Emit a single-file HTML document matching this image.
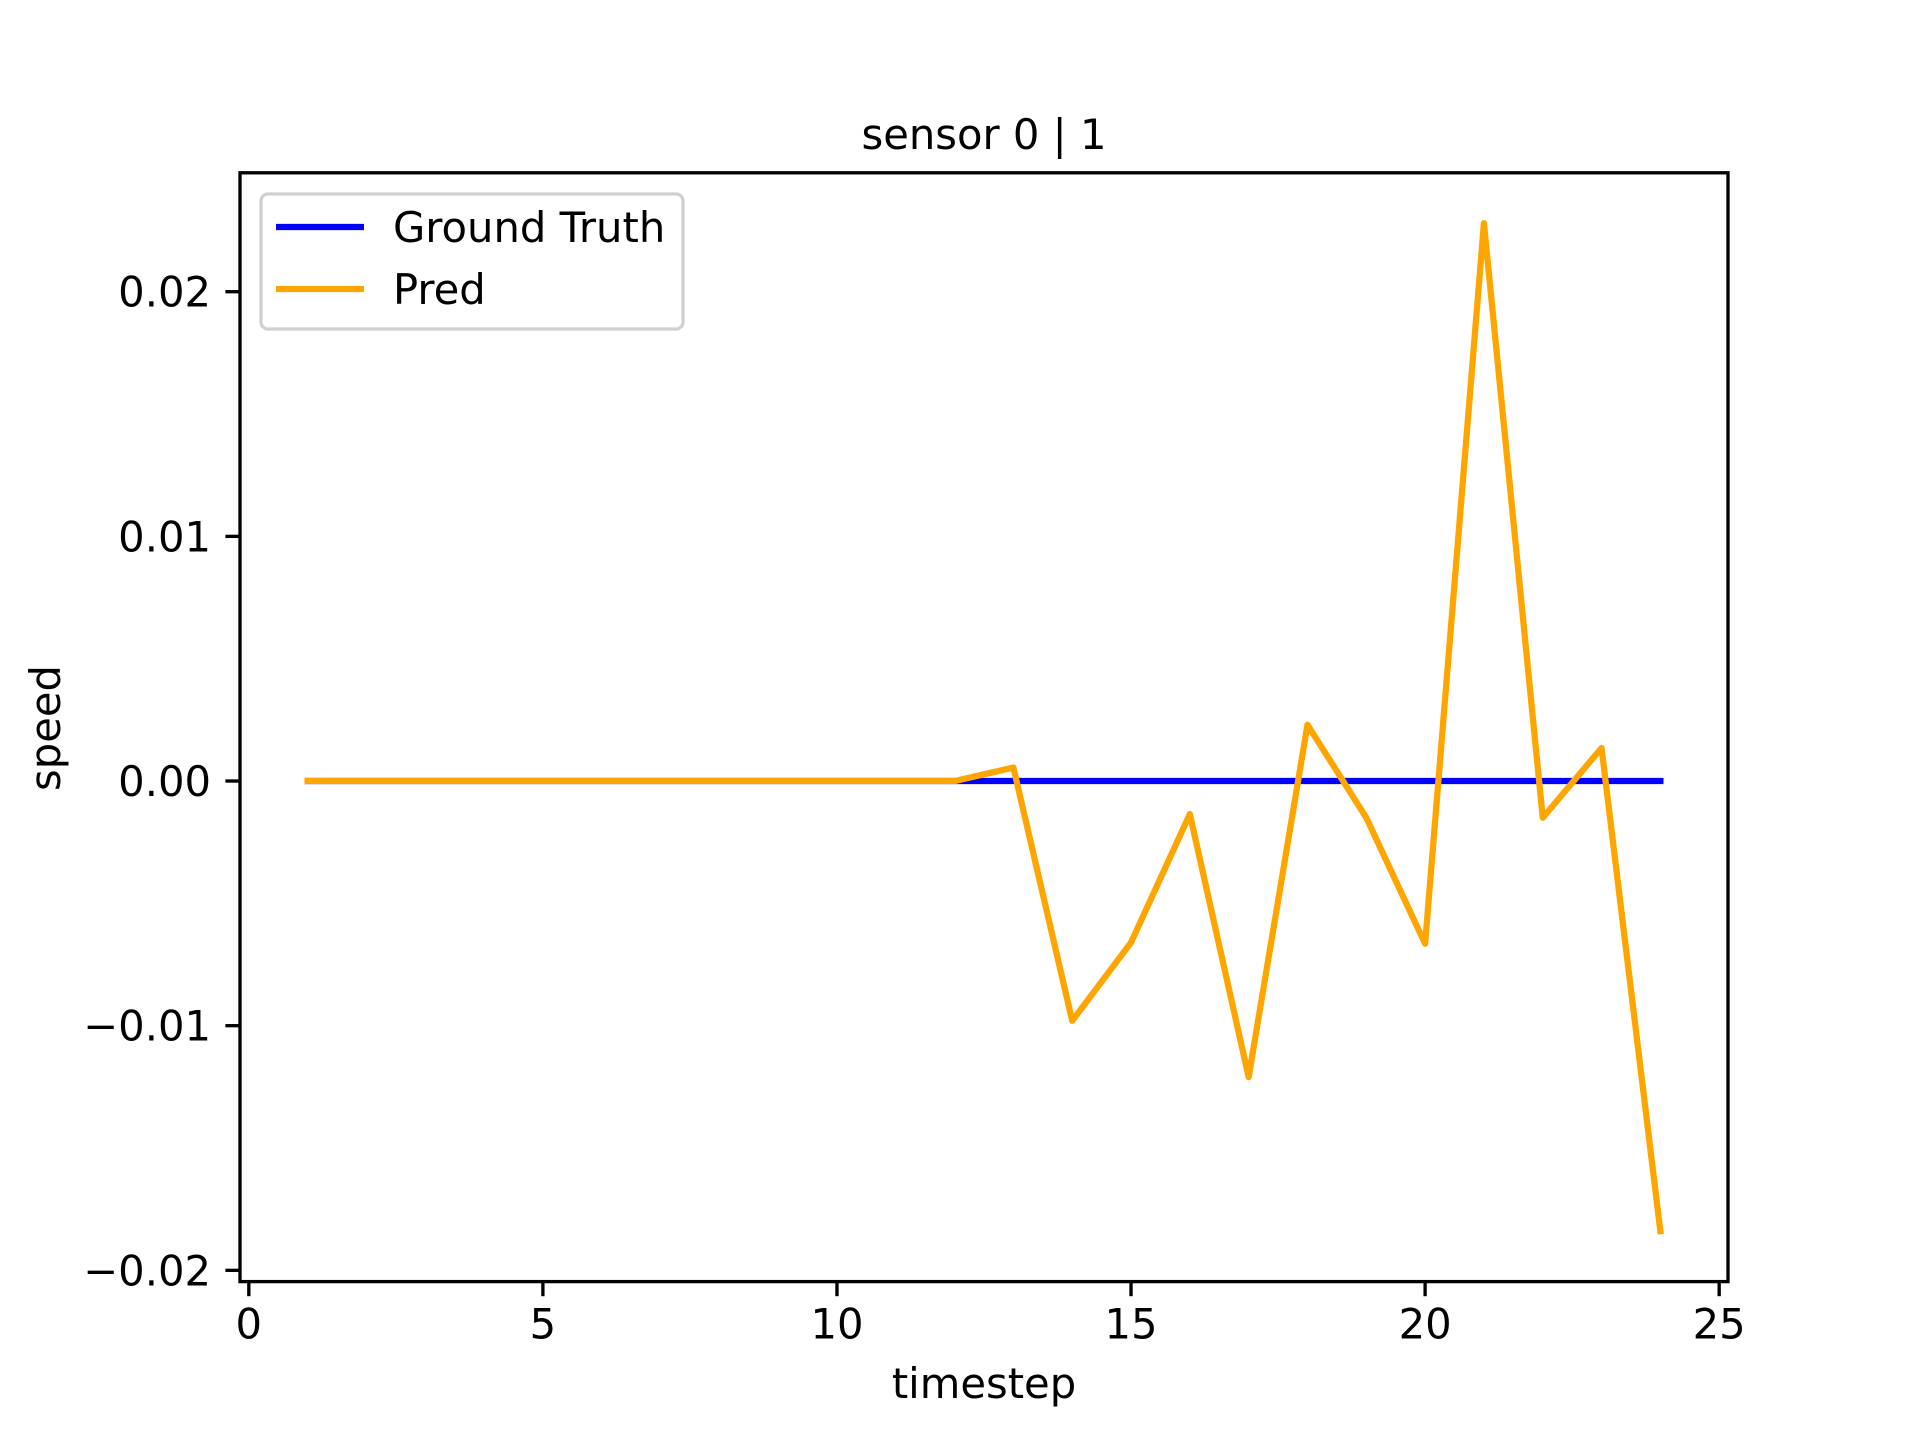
<!DOCTYPE html>
<html><head><meta charset="utf-8"><style>
html,body{margin:0;padding:0;background:#fff;}
svg{display:block;font-family:"DejaVu Sans","Liberation Sans",sans-serif;}
</style></head><body>
<svg id="chart" width="1920" height="1440" viewBox="0 0 1920 1440" xmlns="http://www.w3.org/2000/svg">
<rect width="1920" height="1440" fill="#fff"/>
<g id="plot"></g>
</svg>
<script>
const timesteps = [1,2,3,4,5,6,7,8,9,10,11,12,13,14,15,16,17,18,19,20,21,22,23,24];
const groundTruth = [0,0,0,0,0,0,0,0,0,0,0,0,0,0,0,0,0,0,0,0,0,0,0,0];
const pred = [0,0,0,0,0,0,0,0,0,0,0,0,0.00055,-0.0098,-0.0066,-0.00135,-0.0121,0.0023,-0.0015,-0.00665,0.0228,-0.0015,0.00135,-0.0184];
const xTicks = [0,5,10,15,20,25];
const yTicks = [-0.02,-0.01,0,0.01,0.02];
const yTickLabels = ["\u22120.02","\u22120.01","0.00","0.01","0.02"];

const NS="http://www.w3.org/2000/svg";
const L=240,R=1728,T=172.8,B=1281.6;
const allY=groundTruth.concat(pred);
const dMin=Math.min(...allY),dMax=Math.max(...allY);
const ym=(dMax-dMin)*0.05;
const y0=dMin-ym,y1=dMax+ym;
const xMin=Math.min(...timesteps),xMax=Math.max(...timesteps);
const xm=(xMax-xMin)*0.05;
const x0=xMin-xm,x1=xMax+xm;
const sx=v=>L+(v-x0)/(x1-x0)*(R-L);
const sy=v=>B-(v-y0)/(y1-y0)*(B-T);
const g=document.getElementById('plot');
function mk(tag,attrs,parent){const e=document.createElementNS(NS,tag);for(const k in attrs)e.setAttribute(k,attrs[k]);(parent||g).appendChild(e);return e;}

function series(vals,color,name){
  const p=mk('polyline',{points:timesteps.map((t,i)=>sx(t)+','+sy(vals[i])).join(' '),fill:'none',stroke:color,'stroke-width':6.25,'stroke-linejoin':'round','stroke-linecap':'square'});
  
  
}
series(groundTruth,'#0000ff','ground-truth-line');
series(pred,'#ffa500','pred-line');

const frame=mk('rect',{x:L,y:T,width:R-L,height:B-T,fill:'none',stroke:'#000','stroke-width':3.33});



xTicks.forEach(v=>{
  const x=sx(v);
  const t=mk('line',{x1:x,x2:x,y1:B,y2:B+14.6,stroke:'#000','stroke-width':3.33});
  
  
  const tx=mk('text',{x:x,y:B+57,'font-size':41.7,'text-anchor':'middle',fill:'#000'});
  tx.textContent=String(v);
  
  
});
yTicks.forEach((v,i)=>{
  const y=sy(v);
  const t=mk('line',{x1:L-14.6,x2:L,y1:y,y2:y,stroke:'#000','stroke-width':3.33});
  
  
  const tx=mk('text',{x:L-29,y:y+15,'font-size':41.7,'text-anchor':'end',fill:'#000'});
  tx.textContent=yTickLabels[i];
  
  
});
</script>
<svg style="position:absolute;left:0;top:0" width="1920" height="1440" xmlns="http://www.w3.org/2000/svg">
<text x="984" y="149" font-size="41.7" text-anchor="middle">sensor 0 | 1</text>
<text x="984" y="1398" font-size="41.7" text-anchor="middle">timestep</text>
<text transform="translate(60,728) rotate(-90)" font-size="41.7" text-anchor="middle">speed</text>
<g>
<rect x="261" y="194" width="422" height="135" rx="7" fill="#fff" fill-opacity="0.8" stroke="#d0d0d0" stroke-width="3.3"/>
<line x1="276" y1="227" x2="364" y2="227" stroke="#0000ff" stroke-width="6.25"/>
<text x="393" y="242" font-size="41.7">Ground Truth</text>
<line x1="276" y1="289" x2="364" y2="289" stroke="#ffa500" stroke-width="6.25"/>
<text x="393" y="304" font-size="41.7">Pred</text>
</g>
</svg>
</body></html>
